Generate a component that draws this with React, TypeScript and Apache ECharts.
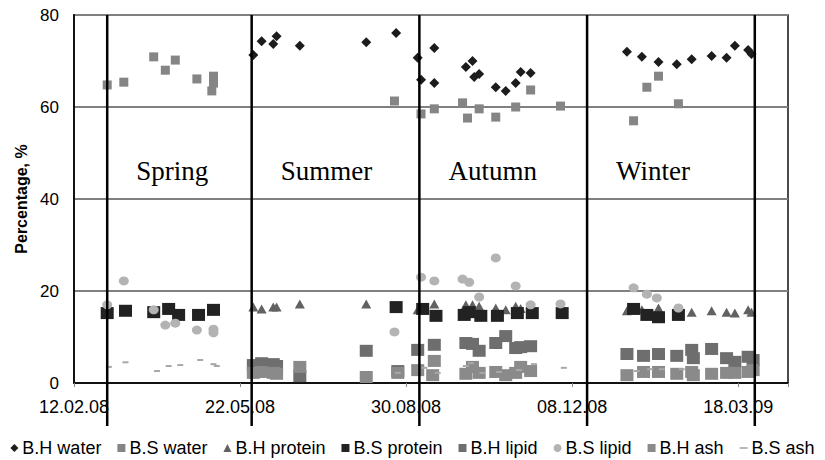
import React, { useEffect, useRef } from "react";
import * as echarts from "echarts";

type P = [string, number];

const AXIS_START = "2008-02-12";
const X_MAX_DAYS = 430;
const X_STEP_DAYS = 100;
const Y_TICKS = [0, 20, 40, 60, 80];

const seasonNames = ["Spring", "Summer", "Autumn", "Winter"];
const seasonBounds = ["2008-03-03", "2008-05-29", "2008-09-07", "2008-12-17", "2009-03-28"];

const bhWater: P[] = [
  ["2008-05-30", 71.3], ["2008-06-04", 74.3], ["2008-06-11", 73.7], ["2008-06-13", 75.4], ["2008-06-27", 73.3],
  ["2008-08-06", 74.1], ["2008-08-24", 76.1], ["2008-09-06", 70.7], ["2008-09-16", 72.8], ["2008-09-08", 65.9],
  ["2008-09-16", 65.2], ["2008-10-05", 68.7], ["2008-10-09", 70.0], ["2008-10-10", 66.5], ["2008-10-13", 67.2],
  ["2008-10-23", 64.3], ["2008-10-29", 63.5], ["2008-11-04", 65.2], ["2008-11-07", 67.6], ["2008-11-13", 67.4],
  ["2009-01-10", 72.0], ["2009-01-19", 70.9], ["2009-01-29", 69.8], ["2009-02-09", 69.3], ["2009-02-18", 70.4],
  ["2009-03-02", 71.1], ["2009-03-11", 70.7], ["2009-03-16", 73.3], ["2009-03-24", 72.4], ["2009-03-26", 71.5],
];
const bsWater: P[] = [
  ["2008-03-03", 64.8], ["2008-03-13", 65.4], ["2008-03-31", 70.9], ["2008-04-07", 68.0], ["2008-04-13", 70.2],
  ["2008-04-26", 66.1], ["2008-05-06", 66.7], ["2008-05-06", 65.2], ["2008-05-05", 63.5], ["2008-08-23", 61.3],
  ["2008-09-08", 58.5], ["2008-09-16", 59.6], ["2008-10-03", 60.9], ["2008-10-06", 57.6], ["2008-10-13", 59.6],
  ["2008-10-23", 57.8], ["2008-11-04", 60.0], ["2008-11-13", 63.7], ["2008-12-01", 60.2],
  ["2009-01-14", 57.0], ["2009-01-22", 64.3], ["2009-01-29", 66.7], ["2009-02-10", 60.7],
];
const bhProtein: P[] = [
  ["2008-05-30", 16.5], ["2008-06-04", 16.1], ["2008-06-11", 16.5], ["2008-06-13", 16.5], ["2008-06-27", 17.2],
  ["2008-08-06", 17.2], ["2008-09-06", 15.9], ["2008-09-16", 17.2], ["2008-10-05", 17.0], ["2008-10-09", 17.0],
  ["2008-10-13", 16.7], ["2008-10-23", 16.3], ["2008-10-29", 15.9], ["2008-11-04", 16.7], ["2008-11-07", 16.2],
  ["2008-11-13", 16.4], ["2009-01-10", 15.7], ["2009-01-19", 15.9], ["2009-01-29", 16.3], ["2009-02-09", 15.9],
  ["2009-02-18", 15.4], ["2009-03-02", 15.7], ["2009-03-11", 15.4], ["2009-03-16", 15.2], ["2009-03-24", 15.9],
  ["2009-03-26", 15.4],
];
const bsProtein: P[] = [
  ["2008-03-03", 15.2], ["2008-03-14", 15.7], ["2008-03-31", 15.4], ["2008-04-09", 16.1], ["2008-04-15", 14.8],
  ["2008-04-27", 14.8], ["2008-05-06", 15.9], ["2008-08-24", 16.5], ["2008-09-09", 16.1], ["2008-09-17", 14.6],
  ["2008-10-04", 14.8], ["2008-10-07", 15.4], ["2008-10-14", 14.6], ["2008-10-24", 14.6], ["2008-11-05", 15.2],
  ["2008-11-14", 15.2], ["2008-12-02", 15.2], ["2009-01-14", 16.1], ["2009-01-22", 14.8], ["2009-01-29", 14.3],
  ["2009-02-10", 14.8],
];
const bhLipid: P[] = [
  ["2008-05-30", 3.9], ["2008-06-04", 4.3], ["2008-06-11", 4.1], ["2008-06-13", 3.7], ["2008-06-27", 1.5],
  ["2008-08-06", 7.0], ["2008-08-25", 2.6], ["2008-09-06", 7.2], ["2008-09-16", 8.3], ["2008-10-05", 8.7],
  ["2008-10-09", 8.5], ["2008-10-13", 7.0], ["2008-10-23", 8.7], ["2008-10-29", 10.2], ["2008-11-04", 7.6],
  ["2008-11-07", 7.8], ["2008-11-13", 8.0], ["2009-01-10", 6.3], ["2009-01-20", 5.9], ["2009-01-29", 6.3],
  ["2009-02-09", 5.9], ["2009-02-18", 7.2], ["2009-02-19", 5.4], ["2009-03-02", 7.4], ["2009-03-11", 5.4],
  ["2009-03-16", 4.6], ["2009-03-24", 5.7], ["2009-03-27", 5.0],
];
const bsLipid: P[] = [
  ["2008-03-03", 17.0], ["2008-03-13", 22.2], ["2008-03-31", 15.9], ["2008-04-07", 12.6], ["2008-04-13", 13.0],
  ["2008-04-26", 11.5], ["2008-05-06", 11.7], ["2008-05-06", 10.9], ["2008-08-23", 11.1], ["2008-09-08", 23.0],
  ["2008-09-16", 22.2], ["2008-10-03", 22.6], ["2008-10-07", 21.9], ["2008-10-13", 18.7], ["2008-10-23", 27.2],
  ["2008-11-04", 21.1], ["2008-11-13", 17.0], ["2008-12-01", 17.2], ["2009-01-14", 20.7], ["2009-01-22", 19.3],
  ["2009-01-28", 18.5], ["2009-02-10", 16.3],
];
const bhAsh: P[] = [
  ["2008-05-30", 2.2], ["2008-06-04", 2.4], ["2008-06-11", 2.2], ["2008-06-13", 2.0], ["2008-06-27", 3.5],
  ["2008-08-06", 1.3], ["2008-08-25", 2.2], ["2008-09-06", 2.8], ["2008-09-16", 4.8], ["2008-09-15", 1.7],
  ["2008-10-05", 2.0], ["2008-10-09", 3.5], ["2008-10-13", 2.2], ["2008-10-23", 2.4], ["2008-10-29", 1.7],
  ["2008-11-04", 2.2], ["2008-11-07", 3.5], ["2008-11-13", 2.6], ["2009-01-10", 1.7], ["2009-01-20", 2.4],
  ["2009-01-29", 2.4], ["2009-02-09", 2.0], ["2009-02-18", 2.4], ["2009-02-19", 1.7], ["2009-03-02", 2.0],
  ["2009-03-11", 2.2], ["2009-03-16", 2.2], ["2009-03-24", 2.4], ["2009-03-27", 2.8],
];
const bsAsh: P[] = [
  ["2008-03-04", 3.5], ["2008-03-14", 4.5], ["2008-04-02", 2.6], ["2008-04-09", 3.7], ["2008-04-16", 3.9],
  ["2008-04-28", 5.0], ["2008-05-06", 4.1], ["2008-05-08", 3.7], ["2008-08-25", 2.2], ["2008-09-10", 3.3],
  ["2008-09-18", 2.2], ["2008-10-05", 3.7], ["2008-10-08", 4.3], ["2008-10-15", 2.2], ["2008-10-25", 2.4],
  ["2008-11-06", 2.8], ["2008-11-15", 4.1], ["2008-12-03", 3.3], ["2009-01-16", 2.6], ["2009-01-24", 3.0],
  ["2009-01-31", 3.0], ["2009-02-12", 3.0],
];

const parse = (s: string) => Date.UTC(+s.slice(0, 4), +s.slice(5, 7) - 1, +s.slice(8, 10));
const DAY = 86400000;
const day = (s: string) => Math.round((parse(s) - parse(AXIS_START)) / DAY);
const fmt = (d: number) => {
  const t = new Date(parse(AXIS_START) + d * DAY);
  const p = (n: number) => String(n).padStart(2, "0");
  return `${p(t.getUTCDate())}.${p(t.getUTCMonth() + 1)}.${p(t.getUTCFullYear() % 100)}`;
};

const FONT = "'Liberation Sans', Arial, sans-serif";
const DASH_ICON = "path://M0,0M8,8M0,3.2L8,3.2L8,4.8L0,4.8Z";

const seriesDefs = [
  { name: "B.H water", data: bhWater, symbol: "diamond", size: [10, 10], color: "#1c1c1c", icon: "diamond" },
  { name: "B.S water", data: bsWater, symbol: "rect", size: [9, 9], color: "#858585", icon: "rect" },
  { name: "B.H protein", data: bhProtein, symbol: "triangle", size: [10, 9], color: "#616161", icon: "triangle" },
  { name: "B.S protein", data: bsProtein, symbol: "rect", size: [13, 12], color: "#222222", icon: "rect" },
  { name: "B.H lipid", data: bhLipid, symbol: "rect", size: [13, 12], color: "#6e6e6e", icon: "rect" },
  { name: "B.S lipid", data: bsLipid, symbol: "circle", size: [10, 9], color: "#b3b3b3", icon: "circle" },
  { name: "B.H ash", data: bhAsh, symbol: "rect", size: [13, 12], color: "#8a8a8a", icon: "rect" },
  { name: "B.S ash", data: bsAsh, symbol: "rect", size: [6, 2], color: "#a8a8a8", icon: DASH_ICON },
];

export default function App() {
  const ref = useRef<HTMLDivElement>(null);
  useEffect(() => {
    if (!ref.current) return;
    const chart = echarts.init(ref.current, undefined, { renderer: "svg" });
    chart.setOption({
      animation: false,
      backgroundColor: "#ffffff",
      grid: { left: 74, right: 37, top: 15, bottom: 77, show: true, borderColor: "#111", borderWidth: 1.5 },
      xAxis: {
        type: "value",
        min: 0,
        max: X_MAX_DAYS,
        interval: X_STEP_DAYS,
        axisLine: { show: true, lineStyle: { color: "#111", width: 2 } },
        axisTick: { show: true, length: 4, lineStyle: { color: "#888" } },
        splitLine: { show: false },
        axisLabel: {
          color: "#000",
          fontFamily: FONT,
          fontSize: 18,
          margin: 15,
          formatter: (v: number) => (v % X_STEP_DAYS === 0 ? fmt(v) : ""),
        },
      },
      yAxis: {
        type: "value",
        min: Y_TICKS[0],
        max: Y_TICKS[Y_TICKS.length - 1],
        interval: Y_TICKS[1] - Y_TICKS[0],
        name: "Percentage, %",
        nameLocation: "middle",
        nameGap: 44,
        nameTextStyle: { color: "#000", fontFamily: FONT, fontSize: 16, fontWeight: "bold" },
        axisLine: { show: true, lineStyle: { color: "#111", width: 2 } },
        axisTick: { show: false },
        splitLine: { show: true, lineStyle: { color: "#808080", width: 2 } },
        axisLabel: { color: "#000", fontFamily: FONT, fontSize: 17, margin: 15 },
      },
      legend: {
        bottom: 3,
        left: "center",
        padding: 0,
        itemWidth: 8,
        itemHeight: 8,
        itemGap: 16,
        textStyle: { color: "#000", fontFamily: FONT, fontSize: 18, padding: [0, 0, 0, -1] },
        data: seriesDefs.map((s) => ({ name: s.name, icon: s.icon })),
      },
      series: seriesDefs.map((s) => ({
        type: "scatter",
        name: s.name,
        symbol: s.symbol,
        symbolSize: s.size,
        itemStyle: { color: s.color, opacity: 1 },
        data: s.data.map(([d, v]) => [day(d), v]),
      })),
    });

    const top = chart.convertToPixel({ yAxisIndex: 0 }, Y_TICKS[Y_TICKS.length - 1]) as number;
    const labelY = chart.convertToPixel({ yAxisIndex: 0 }, 46) as number;
    const xs = seasonBounds.map((s) => chart.convertToPixel({ xAxisIndex: 0 }, day(s)) as number);
    const graphic: any[] = xs.map((x) => ({
      type: "line",
      z: 100,
      shape: { x1: x, y1: top, x2: x, y2: 426 },
      style: { stroke: "#000", lineWidth: 2.5 },
    }));
    seasonNames.forEach((n, i) => {
      graphic.push({
        type: "text",
        z: 100,
        x: xs[i] + 29,
        y: labelY,
        style: {
          text: n,
          fill: "#000",
          font: "27px 'Liberation Serif', 'Times New Roman', serif",
          textAlign: "left",
          textVerticalAlign: "middle",
        },
      });
    });
    chart.setOption({ graphic });

    return () => chart.dispose();
  }, []);
  return <div ref={ref} style={{ position: "absolute", left: 0, top: 0, width: 825, height: 460 }} />;
}
